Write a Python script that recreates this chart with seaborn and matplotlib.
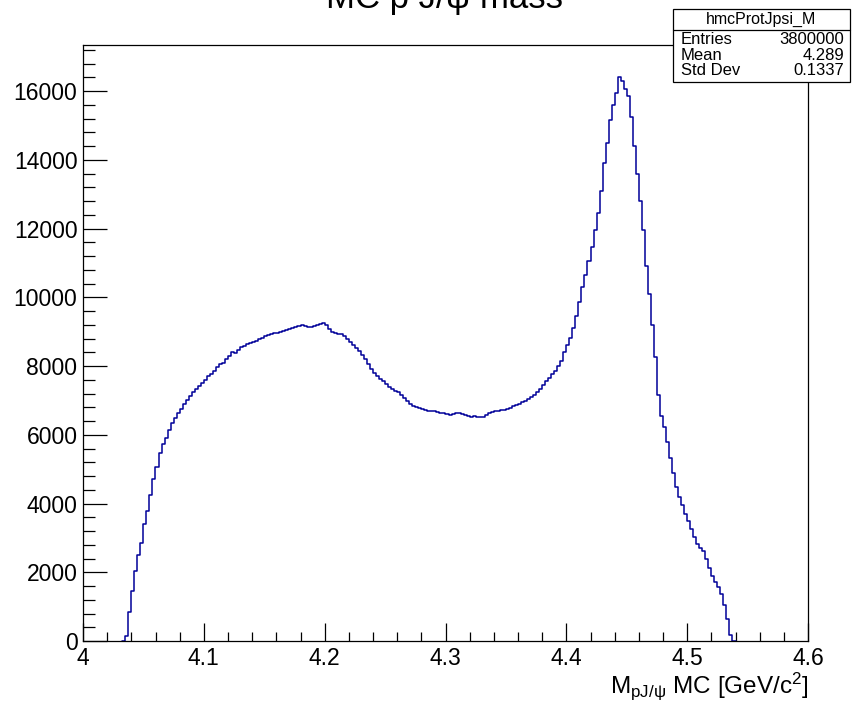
import numpy as np
import pandas as pd
import matplotlib
matplotlib.use("Agg")
import matplotlib.pyplot as plt
from matplotlib.patches import Rectangle
from matplotlib.lines import Line2D
from matplotlib.ticker import MultipleLocator, FixedLocator, FixedFormatter
import seaborn as sns

# ---- data (bin width 0.0025, heights per 0.001 bin) ----
bin_lo = 4.0325
bin_w = 0.0025
counts = [
    0,
    150, 850, 1450, 2050, 2500, 2850, 3400, 3780, 4250, 4700,
    5050, 5480, 5720, 5920, 6150, 6330, 6480, 6620, 6760, 6900,
    7020, 7130, 7230, 7340, 7430, 7510, 7590, 7700, 7780, 7850,
    7960, 8050, 8100, 8200, 8300, 8400, 8380, 8470, 8550, 8580,
    8640, 8670, 8710, 8740, 8780, 8830, 8860, 8900, 8930, 8950,
    8970, 9000, 9020, 9060, 9080, 9120, 9150, 9170, 9200, 9170,
    9150, 9140, 9160, 9180, 9220, 9250, 9190, 9080, 9000, 8960,
    8940, 8920, 8870, 8790, 8700, 8600, 8520, 8430, 8320, 8200,
    8050, 7900, 7800, 7710, 7630, 7550, 7470, 7400, 7330, 7280,
    7250, 7170, 7060, 6980, 6900, 6840, 6810, 6780, 6750, 6720,
    6700, 6690, 6680, 6660, 6640, 6620, 6600, 6570, 6600, 6620,
    6630, 6600, 6570, 6540, 6520, 6560, 6510, 6530, 6530, 6580,
    6640, 6670, 6680, 6700, 6710, 6730, 6740, 6780, 6830, 6860,
    6900, 6940, 6990, 7050, 7110, 7170, 7230, 7330, 7440, 7550,
    7650, 7760, 7860, 7990, 8150, 8400, 8620, 8820, 9100, 9450,
    9850, 10300, 10650, 11050, 11450, 11950, 12450, 13100, 13900, 14500,
    15150, 15600, 15950, 16420, 16300, 16050, 15850, 15250, 14400, 13600,
    12800, 11950, 10900, 10100, 9200, 8250, 7150, 6550, 6220, 5800,
    5320, 4880, 4480, 4200, 3960, 3700, 3500, 3250, 3020, 2820,
    2720, 2620, 2400, 2130, 1900, 1720, 1560, 1380, 1050, 650,
    180,
    0,
]
x_ticks = [4.0, 4.1, 4.2, 4.3, 4.4, 4.5, 4.6]
x_tick_labels = ["4", "4.1", "4.2", "4.3", "4.4", "4.5", "4.6"]
y_ticks = [0, 2000, 4000, 6000, 8000, 10000, 12000, 14000, 16000]
y_tick_labels = ["0", "2000", "4000", "6000", "8000", "10000", "12000", "14000", "16000"]
title = "MC p J/\u03c8 mass"
stats_name = "hmcProtJpsi_M"
stats_labels = ["Entries", "Mean", "Std Dev"]
stats_values = ["3800000", "4.289", "0.1337"]

n_bins = len(counts)
centers = bin_lo + bin_w * (np.arange(n_bins) + 0.5)
df = pd.DataFrame({"mass": centers, "n": counts})

sns.set_theme(style="white")
plt.rcParams["font.family"] = ["Liberation Sans", "DejaVu Sans"]
plt.rcParams["mathtext.fontset"] = "custom"
plt.rcParams["mathtext.rm"] = "Liberation Sans"
plt.rcParams["mathtext.it"] = "Liberation Sans"

W, H = 854, 704
fig = plt.figure(figsize=(W / 100, H / 100), dpi=100)
L, R, T, B = 83, 808, 45, 641
ax = fig.add_axes([L / W, (H - B) / H, (R - L) / W, (B - T) / H])

sns.histplot(data=df, x="mass", weights="n", binwidth=bin_w,
             binrange=(bin_lo, bin_lo + bin_w * n_bins), element="step",
             fill=False, color="#000099", linewidth=1.1, ax=ax)

ax.set_xlim(4.0, 4.6)
ax.set_ylim(0, 17340)
ax.set_xlabel("")
ax.set_ylabel("")

ax.xaxis.set_major_locator(FixedLocator(x_ticks))
ax.xaxis.set_major_formatter(FixedFormatter(x_tick_labels))
ax.xaxis.set_minor_locator(MultipleLocator(0.02))
ax.yaxis.set_major_locator(FixedLocator(y_ticks))
ax.yaxis.set_major_formatter(FixedFormatter(y_tick_labels))
ax.yaxis.set_minor_locator(MultipleLocator(400))

ax.tick_params(axis="x", which="major", direction="in", length=13, width=0.9,
               color="black", labelsize=16.5, labelcolor="black", pad=4,
               bottom=True, top=False)
ax.tick_params(axis="x", which="minor", direction="in", length=6.5, width=0.9,
               color="black", bottom=True, top=False)
ax.tick_params(axis="y", which="major", direction="in", length=17, width=0.9,
               color="black", labelsize=16.5, labelcolor="black", pad=4,
               left=True, right=False)
ax.tick_params(axis="y", which="minor", direction="in", length=8.5, width=0.9,
               color="black", left=True, right=False)
for s in ax.spines.values():
    s.set_color("black")
    s.set_linewidth(0.9)
ax.grid(False)

# axis title (right aligned)
fig.text(R / W, 1 - 693 / H,
         r"M$_{\mathregular{pJ/\psi}}$ MC [GeV/c$^{\mathregular{2}}$]",
         ha="right", va="baseline", fontsize=17.5, color="black")

# title, clipped by top edge
fig.text(445 / W, 1 - 8 / H, title, ha="center", va="baseline", fontsize=25,
         color="black")

# stats box
bx0, by0, bx1, by1 = 672.5, 8.5, 850, 82
fig.patches.append(Rectangle((bx0 / W, 1 - by1 / H), (bx1 - bx0) / W, (by1 - by0) / H,
                             transform=fig.transFigure, facecolor="white",
                             edgecolor="black", linewidth=0.9, zorder=5))
fig.lines.append(Line2D([bx0 / W, bx1 / W], [1 - 29.5 / H, 1 - 29.5 / H],
                        transform=fig.transFigure, color="black", linewidth=0.9, zorder=6))
fig.text((bx0 + bx1) / 2 / W, 1 - 19 / H, stats_name, ha="center", va="center",
         fontsize=11.5, color="black", zorder=7)
rows = [39, 55, 70.5]
for lab, val, yy in zip(stats_labels, stats_values, rows):
    fig.text(681 / W, 1 - yy / H, lab, ha="left", va="center", fontsize=12,
             color="black", zorder=7)
    fig.text(844 / W, 1 - yy / H, val, ha="right", va="center", fontsize=12,
             color="black", zorder=7)

fig.savefig("out.png", dpi=100)
